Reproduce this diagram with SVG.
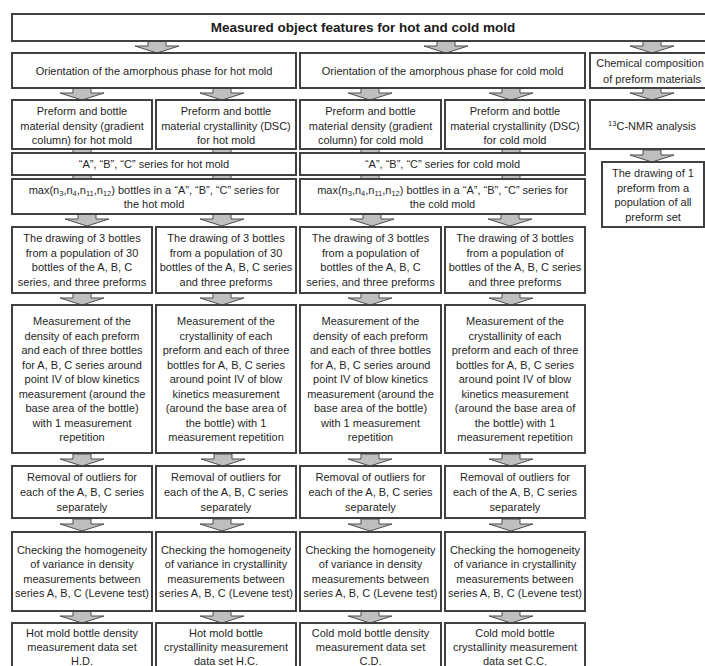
<svg xmlns="http://www.w3.org/2000/svg" width="705" height="666" viewBox="0 0 705 666">
<style>
.b{fill:#fff;stroke:#404040;stroke-width:2}
.t{font-family:"Liberation Sans",Arial,sans-serif;font-size:11px;fill:#1f1f1f;text-anchor:middle}
.h{font-family:"Liberation Sans",Arial,sans-serif;font-size:13.5px;font-weight:bold;fill:#1a1a1a;text-anchor:middle}
.a{fill:#bfbfbf;stroke:#4d4d4d;stroke-width:1}
.s{font-size:7.5px}
</style>
<defs>
<polygon id="arr" class="a" points="-9,0 9,0 9,5 22,5 0,12 -22,5 -9,5"/>
<rect id="sh" class="a" x="-9" y="0" width="18" height="4"/>
</defs>
<rect width="705" height="666" fill="#fff"/>
<g id="connectors">
<use href="#arr" x="157" y="41"/>
<use href="#arr" x="446" y="41"/>
<use href="#arr" x="652" y="41"/>
<use href="#arr" x="82" y="88"/>
<use href="#arr" x="222" y="88"/>
<use href="#arr" x="370" y="88"/>
<use href="#arr" x="511" y="88"/>
<use href="#arr" x="652" y="88"/>
<use href="#arr" x="652" y="150"/>
<use href="#sh" x="82" y="149"/>
<use href="#sh" x="222" y="149"/>
<use href="#sh" x="370" y="149"/>
<use href="#sh" x="511" y="149"/>
<use href="#sh" x="82" y="175"/>
<use href="#sh" x="222" y="175"/>
<use href="#sh" x="370" y="175"/>
<use href="#sh" x="511" y="175"/>
<use href="#arr" x="87" y="214"/>
<use href="#arr" x="222" y="214"/>
<use href="#arr" x="372" y="214"/>
<use href="#arr" x="510" y="214"/>
<use href="#arr" x="82" y="293"/>
<use href="#arr" x="222" y="293"/>
<use href="#arr" x="370" y="293"/>
<use href="#arr" x="511" y="293"/>
<use href="#arr" x="82" y="454"/>
<use href="#arr" x="223" y="454"/>
<use href="#arr" x="370" y="454"/>
<use href="#arr" x="511" y="454"/>
<use href="#arr" x="82" y="519"/>
<use href="#arr" x="222" y="519"/>
<use href="#arr" x="370" y="519"/>
<use href="#arr" x="511" y="519"/>
<use href="#arr" x="82" y="611"/>
<use href="#arr" x="222" y="611"/>
<use href="#arr" x="370" y="611"/>
<use href="#arr" x="511" y="611"/>
</g>
<g id="title"><rect class="b" x="12" y="14" width="702" height="27"/><text class="h" x="363" y="32">Measured object features for hot and cold mold</text></g>
<g id="orient-hot"><rect class="b" x="12" y="53" width="284" height="35"/><text class="t" x="154" y="74.5">Orientation of the amorphous phase for hot mold</text></g>
<g id="orient-cold"><rect class="b" x="300" y="53" width="285" height="35"/><text class="t" x="442.5" y="74.5">Orientation of the amorphous phase for cold mold</text></g>
<g id="chem"><rect class="b" x="590" y="53" width="124" height="35"/><text class="t" x="650" y="67">Chemical composition</text><text class="t" x="652" y="83">of preform materials</text></g>
<g id="dens-hot"><rect class="b" x="12" y="100" width="140" height="49"/><text class="t" x="82" y="115">Preform and bottle</text><text class="t" x="82" y="129.5">material density (gradient</text><text class="t" x="82" y="144">column) for hot mold</text></g>
<g id="cryst-hot"><rect class="b" x="156" y="100" width="140" height="49"/><text class="t" x="226" y="115">Preform and bottle</text><text class="t" x="226" y="129.5">material crystallinity (DSC)</text><text class="t" x="226" y="144">for hot mold</text></g>
<g id="dens-cold"><rect class="b" x="300" y="100" width="141" height="49"/><text class="t" x="370.5" y="115">Preform and bottle</text><text class="t" x="370.5" y="129.5">material density (gradient</text><text class="t" x="370.5" y="144">column) for cold mold</text></g>
<g id="cryst-cold"><rect class="b" x="445" y="100" width="140" height="49"/><text class="t" x="515" y="115">Preform and bottle</text><text class="t" x="515" y="129.5">material crystallinity (DSC)</text><text class="t" x="515" y="144">for cold mold</text></g>
<g id="nmr"><rect class="b" x="590" y="100" width="124" height="49"/><text class="t" x="652" y="130"><tspan class="s" dy="-4">13</tspan><tspan dy="4">C-NMR analysis</tspan></text></g>
<g id="series-hot"><rect class="b" x="12" y="153" width="284" height="22"/><text class="t" x="154" y="168">“A”, “B”, “C” series for hot mold</text></g>
<g id="series-cold"><rect class="b" x="300" y="153" width="285" height="22"/><text class="t" x="442.5" y="168">“A”, “B”, “C” series for cold mold</text></g>
<g id="max-hot"><rect class="b" x="12" y="179" width="284" height="35"/><text class="t" x="154" y="194">max(n<tspan class="s" dy="2">3</tspan><tspan dy="-2">,n</tspan><tspan class="s" dy="2">4</tspan><tspan dy="-2">,n</tspan><tspan class="s" dy="2">11</tspan><tspan dy="-2">,n</tspan><tspan class="s" dy="2">12</tspan><tspan dy="-2">) bottles in a “A”, “B”, “C” series for</tspan></text><text class="t" x="154" y="208">the hot mold</text></g>
<g id="max-cold"><rect class="b" x="300" y="179" width="285" height="35"/><text class="t" x="442.5" y="194">max(n<tspan class="s" dy="2">3</tspan><tspan dy="-2">,n</tspan><tspan class="s" dy="2">4</tspan><tspan dy="-2">,n</tspan><tspan class="s" dy="2">11</tspan><tspan dy="-2">,n</tspan><tspan class="s" dy="2">12</tspan><tspan dy="-2">) bottles in a “A”, “B”, “C” series for</tspan></text><text class="t" x="442.5" y="208">the cold mold</text></g>
<g id="preform-draw"><rect class="b" x="602" y="162" width="102" height="65"/><text class="t" x="653" y="177">The drawing of 1</text><text class="t" x="653" y="191.5">preform from a</text><text class="t" x="653" y="206">population of all</text><text class="t" x="653" y="220.5">preform set</text></g>
<g id="draw-1"><rect class="b" x="12" y="227" width="140" height="66"/><text class="t" x="82" y="242">The drawing of 3 bottles</text><text class="t" x="82" y="256.5">from a population of 30</text><text class="t" x="82" y="271">bottles of the A, B, C</text><text class="t" x="82" y="285.5">series, and three preforms</text></g>
<g id="draw-2"><rect class="b" x="156" y="227" width="140" height="66"/><text class="t" x="226" y="242">The drawing of 3 bottles</text><text class="t" x="226" y="256.5">from a population of 30</text><text class="t" x="226" y="271">bottles of the A, B, C series</text><text class="t" x="226" y="285.5">and three preforms</text></g>
<g id="draw-3"><rect class="b" x="300" y="227" width="141" height="66"/><text class="t" x="370.5" y="242">The drawing of 3 bottles</text><text class="t" x="370.5" y="256.5">from a population of</text><text class="t" x="370.5" y="271">bottles of the A, B, C</text><text class="t" x="370.5" y="285.5">series, and three preforms</text></g>
<g id="draw-4"><rect class="b" x="445" y="227" width="140" height="66"/><text class="t" x="515" y="242">The drawing of 3 bottles</text><text class="t" x="515" y="256.5">from a population of</text><text class="t" x="515" y="271">bottles of the A, B, C series</text><text class="t" x="515" y="285.5">and three preforms</text></g>
<g id="meas-1"><rect class="b" x="12" y="305" width="140" height="148"/><text class="t" x="82" y="325">Measurement of the</text><text class="t" x="82" y="339.5">density of each preform</text><text class="t" x="82" y="354">and each of three bottles</text><text class="t" x="82" y="368.5">for A, B, C series around</text><text class="t" x="82" y="383">point IV of blow kinetics</text><text class="t" x="82" y="397.5">measurement (around the</text><text class="t" x="82" y="412">base area of the bottle)</text><text class="t" x="82" y="426.5">with 1 measurement</text><text class="t" x="82" y="441">repetition</text></g>
<g id="meas-2"><rect class="b" x="156" y="305" width="140" height="148"/><text class="t" x="226" y="325">Measurement of the</text><text class="t" x="226" y="339.5">crystallinity of each</text><text class="t" x="226" y="354">preform and each of three</text><text class="t" x="226" y="368.5">bottles for A, B, C series</text><text class="t" x="226" y="383">around point IV of blow</text><text class="t" x="226" y="397.5">kinetics measurement</text><text class="t" x="226" y="412">(around the base area of</text><text class="t" x="226" y="426.5">the bottle) with 1</text><text class="t" x="226" y="441">measurement repetition</text></g>
<g id="meas-3"><rect class="b" x="300" y="305" width="141" height="148"/><text class="t" x="370.5" y="325">Measurement of the</text><text class="t" x="370.5" y="339.5">density of each preform</text><text class="t" x="370.5" y="354">and each of three bottles</text><text class="t" x="370.5" y="368.5">for A, B, C series around</text><text class="t" x="370.5" y="383">point IV of blow kinetics</text><text class="t" x="370.5" y="397.5">measurement (around the</text><text class="t" x="370.5" y="412">base area of the bottle)</text><text class="t" x="370.5" y="426.5">with 1 measurement</text><text class="t" x="370.5" y="441">repetition</text></g>
<g id="meas-4"><rect class="b" x="445" y="305" width="140" height="148"/><text class="t" x="515" y="325">Measurement of the</text><text class="t" x="515" y="339.5">crystallinity of each</text><text class="t" x="515" y="354">preform and each of three</text><text class="t" x="515" y="368.5">bottles for A, B, C series</text><text class="t" x="515" y="383">around point IV of blow</text><text class="t" x="515" y="397.5">kinetics measurement</text><text class="t" x="515" y="412">(around the base area of</text><text class="t" x="515" y="426.5">the bottle) with 1</text><text class="t" x="515" y="441">measurement repetition</text></g>
<g id="rem-1"><rect class="b" x="12" y="466" width="140" height="52"/><text class="t" x="82" y="481">Removal of outliers for</text><text class="t" x="82" y="496">each of the A, B, C series</text><text class="t" x="82" y="510.5">separately</text></g>
<g id="rem-2"><rect class="b" x="156" y="466" width="140" height="52"/><text class="t" x="226" y="481">Removal of outliers for</text><text class="t" x="226" y="496">each of the A, B, C series</text><text class="t" x="226" y="510.5">separately</text></g>
<g id="rem-3"><rect class="b" x="300" y="466" width="141" height="52"/><text class="t" x="370.5" y="481">Removal of outliers for</text><text class="t" x="370.5" y="496">each of the A, B, C series</text><text class="t" x="370.5" y="510.5">separately</text></g>
<g id="rem-4"><rect class="b" x="445" y="466" width="140" height="52"/><text class="t" x="515" y="481">Removal of outliers for</text><text class="t" x="515" y="496">each of the A, B, C series</text><text class="t" x="515" y="510.5">separately</text></g>
<g id="chk-1"><rect class="b" x="12" y="532" width="140" height="79"/><text class="t" x="82" y="553.5">Checking the homogeneity</text><text class="t" x="82" y="568">of variance in density</text><text class="t" x="82" y="582.5">measurements between</text><text class="t" x="82" y="597">series A, B, C (Levene test)</text></g>
<g id="chk-2"><rect class="b" x="156" y="532" width="140" height="79"/><text class="t" x="226" y="553.5">Checking the homogeneity</text><text class="t" x="226" y="568">of variance in crystallinity</text><text class="t" x="226" y="582.5">measurements between</text><text class="t" x="226" y="597">series A, B, C (Levene test)</text></g>
<g id="chk-3"><rect class="b" x="300" y="532" width="141" height="79"/><text class="t" x="370.5" y="553.5">Checking the homogeneity</text><text class="t" x="370.5" y="568">of variance in density</text><text class="t" x="370.5" y="582.5">measurements between</text><text class="t" x="370.5" y="597">series A, B, C (Levene test)</text></g>
<g id="chk-4"><rect class="b" x="445" y="532" width="140" height="79"/><text class="t" x="515" y="553.5">Checking the homogeneity</text><text class="t" x="515" y="568">of variance in crystallinity</text><text class="t" x="515" y="582.5">measurements between</text><text class="t" x="515" y="597">series A, B, C (Levene test)</text></g>
<g id="ds-1"><rect class="b" x="12" y="623" width="140" height="60"/><text class="t" x="82" y="637">Hot mold bottle density</text><text class="t" x="82" y="651">measurement data set</text><text class="t" x="82" y="664.5">H.D.</text></g>
<g id="ds-2"><rect class="b" x="156" y="623" width="140" height="60"/><text class="t" x="226" y="637">Hot mold bottle</text><text class="t" x="226" y="651">crystallinity measurement</text><text class="t" x="226" y="664.5">data set H.C.</text></g>
<g id="ds-3"><rect class="b" x="300" y="623" width="141" height="60"/><text class="t" x="370.5" y="637">Cold mold bottle density</text><text class="t" x="370.5" y="651">measurement data set</text><text class="t" x="370.5" y="664.5">C.D.</text></g>
<g id="ds-4"><rect class="b" x="445" y="623" width="140" height="60"/><text class="t" x="515" y="637">Cold mold bottle</text><text class="t" x="515" y="651">crystallinity measurement</text><text class="t" x="515" y="664.5">data set C.C.</text></g>
</svg>
